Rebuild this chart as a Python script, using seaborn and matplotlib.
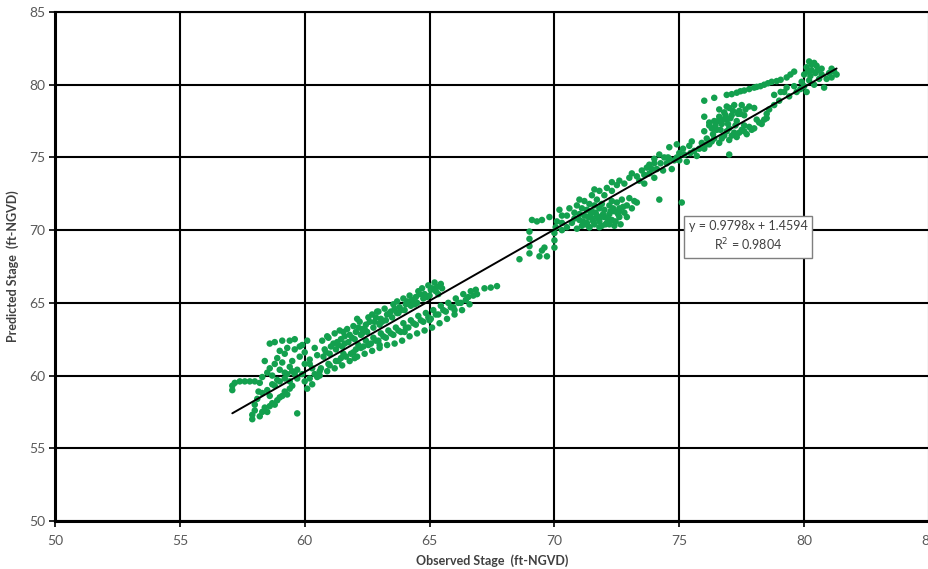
import numpy as np
import pandas as pd
import matplotlib
matplotlib.use("Agg")
import matplotlib.pyplot as plt
import seaborn as sns

# ---- data (observed, predicted) ----
obs_lowleft = [57.1, 57.1, 57.2, 57.4, 57.6, 57.8, 58.0, 58.2, 57.9, 57.9, 58.0, 58.0, 58.1, 58.2, 58.3,
               58.4, 58.5, 58.6, 58.7, 58.8, 58.9, 59.0, 59.1, 59.2, 59.3, 59.4, 59.5, 59.7, 58.3, 58.5,
               58.6, 58.8, 59.0, 59.2, 58.9, 59.2, 59.6, 59.9, 59.4, 58.7, 59.7, 58.15]
pred_lowleft = [59.0, 59.3, 59.5, 59.6, 59.6, 59.6, 59.6, 59.5, 57.0, 57.3, 57.6, 58.0, 58.4, 57.2, 57.5,
                57.8, 57.5, 57.9, 58.1, 58.0, 58.3, 58.5, 58.6, 58.9, 58.7, 59.1, 59.3, 57.4, 58.8, 59.0,
                58.6, 59.3, 59.6, 59.8, 59.7, 60.2, 60.1, 60.1, 59.6, 59.4, 59.8, 58.9]

obs_upleft = [58.3, 58.5, 58.6, 58.7, 58.8, 58.9, 59.0, 59.1, 59.2, 59.3, 59.4, 59.4, 59.5, 59.6, 59.7,
              59.8, 59.9, 60.0, 60.0, 60.1, 60.2, 60.3, 60.4, 60.5, 58.6, 58.8, 59.1, 59.3, 59.6, 59.8,
              58.4, 59.0, 59.5, 60.2, 60.4, 60.6, 60.1, 60.3, 60.5, 60.0, 60.2]
pred_upleft = [59.9, 60.2, 60.5, 60.0, 60.8, 61.2, 60.4, 60.9, 61.5, 60.1, 60.6, 62.4, 61.0, 61.8, 60.4,
               61.3, 62.1, 60.8, 61.6, 62.4, 61.1, 60.5, 61.9, 61.4, 62.2, 62.3, 62.4, 61.9, 62.5, 62.0,
               61.0, 61.7, 60.3, 59.8, 60.1, 60.3, 59.1, 59.4, 59.9, 59.6, 60.8]

obs_upband = [60.75, 60.8, 60.7, 61.0, 61.05, 60.95, 61.25, 61.3, 61.2, 61.5, 61.45, 61.55, 61.75, 61.8,
              61.7, 62.0, 62.05, 61.95, 62.25, 62.3, 62.2, 62.5, 62.45, 62.55, 62.75, 62.8, 62.7, 63.0,
              63.05, 62.95, 63.25, 63.3, 63.2, 63.5, 63.45, 63.55, 63.75, 63.8, 63.7, 64.0, 64.05, 63.95,
              64.25, 64.3, 64.2, 64.5, 64.45, 64.55, 64.75, 64.8, 64.7, 65.0, 65.05, 64.95, 65.25, 65.3,
              65.2, 65.5, 65.45, 61.4, 62.9, 60.9, 62.1,
              60.85, 61.15, 61.35, 61.6, 61.9, 62.15, 62.4, 62.6, 62.85, 63.1, 63.4, 63.6, 63.85, 64.1,
              64.35, 64.6, 64.9, 65.1, 65.35, 61.6, 62.3, 63.0, 63.7, 64.4]
pred_upband = [61.3, 61.8, 62.4, 61.5, 62.0, 62.6, 61.8, 62.3, 62.9, 62.0, 62.5, 63.0, 62.3, 62.8, 63.2,
               62.5, 63.0, 63.4, 62.8, 63.2, 63.7, 63.0, 63.5, 64.0, 63.3, 63.7, 64.2, 63.5, 63.9, 64.4,
               63.8, 64.2, 64.6, 64.0, 64.4, 64.9, 64.3, 64.7, 65.1, 64.5, 64.9, 65.3, 64.8, 65.2, 65.5,
               65.0, 65.4, 65.8, 65.3, 65.6, 66.0, 65.5, 65.9, 66.2, 65.8, 66.1, 66.4, 66.0, 66.3,
               63.1, 64.4, 62.7, 63.9,
               61.6, 62.2, 62.1, 62.7, 62.6, 63.3, 63.2, 63.7, 64.0, 63.7, 64.3, 64.6, 64.5, 65.1,
               65.0, 65.6, 65.4, 66.0, 65.6, 62.2, 62.9, 63.6, 64.3, 64.9]

obs_lowband = [60.6, 60.65, 60.9, 60.95, 61.2, 61.25, 61.5, 61.45, 61.55, 61.8, 61.85, 62.1, 62.05, 62.15,
               62.4, 62.35, 62.45, 62.7, 62.65, 62.75, 63.0, 62.95, 63.05, 63.3, 63.25, 63.35, 63.6, 63.55,
               63.65, 63.9, 63.85, 63.95, 64.2, 64.15, 64.25, 64.5, 64.45, 64.55, 64.8, 64.75, 64.85, 65.1,
               65.05, 65.15, 65.4, 65.35, 65.45, 65.7, 65.65, 65.75, 66.0, 65.95, 66.05, 66.3, 66.25, 66.35,
               66.6, 66.55, 66.65, 66.9, 66.85, 67.2, 67.45, 67.7,
               61.0, 61.35, 61.65, 61.95, 62.25, 62.55, 62.85, 63.15, 63.45, 63.75, 64.05, 64.35, 64.65,
               64.95, 65.25, 65.55, 65.85, 66.15, 66.45, 66.75, 62.0, 63.0, 64.0, 65.0, 66.0]
pred_lowband = [60.0, 60.5, 60.3, 60.8, 60.5, 61.0, 60.7, 61.2, 61.5, 61.0, 61.5, 61.3, 61.8, 62.1,
                61.5, 62.0, 62.4, 61.7, 62.2, 62.6, 61.9, 62.4, 62.9, 62.1, 62.6, 63.1, 62.2, 62.8,
                63.3, 62.4, 63.0, 63.6, 62.7, 63.3, 63.8, 62.9, 63.5, 64.1, 63.1, 63.7, 64.3, 63.3,
                63.9, 64.5, 63.6, 64.2, 64.8, 63.9, 64.4, 65.0, 64.2, 64.7, 65.3, 64.5, 65.0, 65.6,
                64.9, 65.4, 65.8, 65.6, 65.9, 66.0, 66.05, 66.15,
                60.7, 61.0, 61.3, 61.6, 61.9, 62.1, 62.4, 62.7, 62.9, 63.1, 63.3, 63.6, 63.8,
                64.0, 64.2, 64.5, 64.7, 65.0, 65.2, 65.5, 61.2, 62.1, 63.0, 63.8, 64.5]

obs_gap = [68.6, 69.0, 69.0, 69.0, 69.0, 69.1, 69.3, 69.5, 69.4, 69.5, 69.7, 69.6, 70.0, 70.0, 70.0,
           70.05, 70.1, 70.3, 70.3, 70.3, 70.2, 69.8]
pred_gap = [68.0, 68.4, 68.9, 69.4, 69.9, 70.7, 70.6, 70.7, 68.2, 68.6, 68.2, 68.8, 68.8, 69.3, 69.8,
            70.2, 70.6, 70.0, 70.5, 71.0, 71.4, 70.9]

obs_mid_up = [70.5, 70.6, 70.8, 70.9, 71.1, 71.2, 71.4, 71.5, 71.7, 71.8, 72.0, 72.1, 72.3, 72.5, 72.6,
              72.8, 73.0, 73.1, 73.3, 73.5, 73.7, 74.0, 71.0, 71.6, 72.3]
pred_mid_up = [71.0, 71.5, 71.2, 71.7, 71.5, 72.0, 71.8, 72.4, 72.1, 72.7, 72.4, 72.9, 72.7, 73.1, 73.4,
               73.2, 73.6, 73.9, 73.7, 74.1, 74.3, 74.6, 72.1, 72.8, 73.3]

obs_blob = [70.5, 70.7, 70.9, 71.0, 71.1, 71.2, 71.3, 71.4, 71.5, 71.5, 71.6, 71.7, 71.8, 71.8, 71.9,
            72.0, 72.0, 72.1, 72.2, 72.2, 72.3, 72.4, 72.4, 72.5, 72.6, 72.6, 72.7, 72.8, 72.9, 72.9,
            73.0, 73.1, 73.2, 73.3, 71.3, 71.0, 71.9, 72.3, 71.6, 70.8, 74.2, 75.1,
            71.15, 71.35, 71.55, 71.75, 71.95, 72.15, 72.35, 72.55, 72.75, 71.25, 71.45, 71.65,
            71.85, 72.05, 72.25, 72.45, 72.65, 71.4, 71.8, 72.2, 72.6]
pred_blob = [70.2, 70.5, 70.1, 70.7, 70.3, 71.0, 70.5, 70.2, 70.8, 71.3, 70.4, 71.0, 70.6, 71.5, 70.3,
             70.9, 71.4, 70.5, 71.1, 71.7, 70.7, 71.3, 70.3, 71.9, 70.9, 71.5, 72.1, 71.2, 70.9, 71.7,
             72.2, 71.5, 72.0, 71.9, 71.4, 71.1, 71.8, 72.0, 71.7, 70.8, 72.1, 71.9,
             70.6, 70.9, 70.6, 70.8, 71.1, 70.8, 71.5, 71.1, 71.6, 70.4, 71.1, 71.2,
             70.9, 70.4, 71.3, 70.6, 70.4, 70.2, 70.2, 70.4, 71.3]

obs_upper_mid = [73.4, 73.6, 73.8, 73.8, 74.0, 74.1, 74.2, 74.35, 74.5, 74.6, 74.7, 74.8, 75.0, 75.2,
                 75.3, 75.4, 75.6, 75.7, 75.9, 76.0, 76.1, 74.4, 74.9, 75.5, 73.6, 74.0,
                 73.9, 74.25, 74.55, 74.9, 75.15, 75.45, 75.8, 76.1, 74.6, 75.0]
pred_upper_mid = [73.4, 73.2, 73.9, 74.5, 73.6, 74.2, 75.2, 74.1, 74.6, 75.7, 74.2, 74.8, 75.3, 75.2,
                  74.7, 75.8, 75.45, 75.1, 76.0, 75.6, 76.3, 75.0, 75.9, 76.1, 73.8, 74.9,
                  74.2, 74.6, 75.0, 75.0, 75.6, 75.3, 75.6, 75.9, 74.9, 74.8]

obs_top_blob = [76.3, 76.4, 76.5, 76.6, 76.7, 76.8, 76.9, 77.0, 77.0, 77.1, 77.2, 77.3, 77.4, 77.5, 77.6,
                77.8, 78.0, 76.6, 76.9, 76.0, 76.4, 76.0, 76.2, 76.2, 76.0,
                76.2, 76.4, 76.6, 76.8, 77.0, 77.2, 77.3, 77.5, 77.7, 77.8, 78.0, 78.2, 78.4, 78.5,
                77.0, 76.9, 77.6,
                76.45, 76.75, 77.05, 77.35, 77.65, 76.55, 76.85, 77.15, 77.45, 76.35, 76.65, 76.95, 77.25,
                76.3, 76.7, 77.1, 77.4, 77.9, 78.3, 78.1, 77.6]
pred_top_blob = [77.0, 77.5, 76.9, 77.8, 77.3, 78.1, 77.6, 78.4, 77.0, 77.9, 78.6, 77.5, 78.2, 78.6, 77.9,
                 78.5, 78.4, 78.3, 78.5, 78.9, 79.1, 77.8, 77.4, 77.2, 76.8,
                 75.9, 76.3, 76.0, 76.5, 76.2, 76.7, 76.4, 76.9, 76.6, 77.1, 77.0, 77.4, 77.6, 77.7,
                 75.2, 76.8, 77.2,
                 77.2, 77.6, 77.7, 78.0, 78.3, 77.5, 77.9, 78.2, 78.0, 76.6, 76.9, 77.3, 77.2,
                 76.1, 76.3, 76.5, 76.7, 76.9, 77.3, 77.6, 76.8]

obs_streak = [76.9, 77.1, 77.45, 77.6, 78.0, 78.25, 78.4, 78.7, 79.06, 79.3, 79.6, 77.8,
              77.3, 78.1, 78.55, 78.9, 79.45]
pred_streak = [79.3, 79.35, 79.55, 79.6, 79.8, 79.9, 80.0, 80.2, 80.34, 80.5, 80.9, 79.7,
               79.45, 79.85, 80.1, 80.25, 80.7]

obs_top = [78.5, 78.8, 78.8, 79.0, 79.06, 79.3, 79.4, 79.6, 79.7, 80.0, 80.1, 80.0, 80.1, 80.2, 80.3,
           80.4, 80.5, 80.4, 80.7, 80.7, 80.8, 80.9, 81.1, 81.1, 81.2, 81.3, 80.6, 80.2,
           80.15, 80.3, 80.45, 80.25, 80.55, 79.85, 79.2, 78.6, 79.9, 81.0]
pred_top = [78.0, 78.6, 79.3, 78.9, 79.5, 79.8, 79.2, 79.9, 79.5, 79.9, 79.5, 80.7, 81.2, 81.6, 81.0,
            81.5, 81.3, 80.0, 80.7, 81.1, 79.8, 80.4, 80.5, 81.1, 80.9, 80.7, 80.4, 80.3,
            80.9, 81.4, 80.8, 80.6, 81.0, 79.7, 79.5, 78.3, 80.2, 80.8]

trend_slope = 0.9798
trend_intercept = 1.4594
r_squared = 0.9804

x_ticks = [50, 55, 60, 65, 70, 75, 80, 85]
y_ticks = [50, 55, 60, 65, 70, 75, 80, 85]

observed = (obs_lowleft + obs_upleft + obs_upband + obs_lowband + obs_gap + obs_mid_up + obs_blob
            + obs_upper_mid + obs_top_blob + obs_streak + obs_top)
predicted = (pred_lowleft + pred_upleft + pred_upband + pred_lowband + pred_gap + pred_mid_up + pred_blob
             + pred_upper_mid + pred_top_blob + pred_streak + pred_top)
df = pd.DataFrame({"Observed": observed, "Predicted": predicted})

# ---- figure ----
sns.set_theme(style="white")
plt.rcParams["font.family"] = ["Lato", "DejaVu Sans"]

fig = plt.figure(figsize=(9.29, 5.69), dpi=100)
ax = fig.add_axes([55 / 929, 48 / 569, 874 / 929, 509 / 569])

green = "#13a04e"
sns.scatterplot(data=df, x="Observed", y="Predicted", ax=ax, color=green, s=22,
                linewidth=0, edgecolor="none", zorder=3, legend=False)

xl = np.array([min(observed), max(observed)])
ax.plot(xl, trend_slope * xl + trend_intercept, color="black", lw=1.4, zorder=4)

ax.set_xlim(50, 85)
ax.set_ylim(50, 85)
ax.set_xticks(x_ticks)
ax.set_yticks(y_ticks)
ax.grid(True, color="black", lw=1.5, zorder=1)
ax.set_axisbelow(True)

for side in ["left", "bottom"]:
    ax.spines[side].set_color("black")
    ax.spines[side].set_linewidth(2.2)
    ax.spines[side].set_visible(True)
ax.spines["top"].set_visible(True)
ax.spines["top"].set_color("black")
ax.spines["top"].set_linewidth(1.5)
ax.spines["right"].set_visible(False)

ax.tick_params(axis="both", which="major", direction="out", length=4, width=1.2,
               color="black", labelsize=10, labelcolor="#595959", pad=3)
ax.tick_params(axis="x", pad=6, bottom=True)
ax.tick_params(axis="y", left=True)

ax.set_xlabel("Observed Stage  (ft-NGVD)", fontsize=9, fontweight="bold", color="#404040", labelpad=5)
ax.set_ylabel("Predicted Stage  (ft-NGVD)", fontsize=9, fontweight="bold", color="#404040", labelpad=7)

ax.text(77.75, 69.55, f"y = {trend_slope}x + {trend_intercept}\nR$^2$ = {r_squared}",
        ha="center", va="center", fontsize=9, color="#404040", linespacing=1.35, zorder=5,
        bbox=dict(boxstyle="square,pad=0.35", facecolor="white", edgecolor="#7f7f7f", linewidth=1.0))

fig.savefig("out.png", dpi=100)
